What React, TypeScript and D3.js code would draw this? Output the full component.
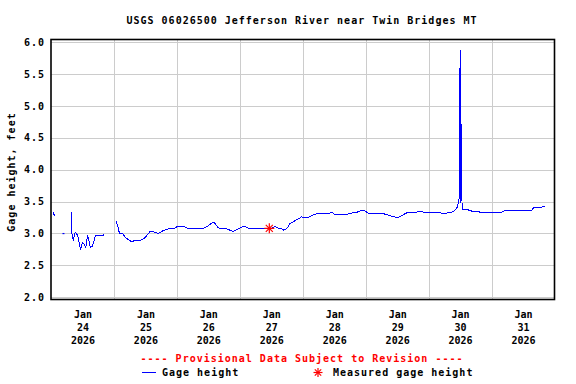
import React, { useEffect, useRef } from 'react';
import * as d3 from 'd3';

// 15-minute gage readings (null = gap in record)
const gageTimes = [
  '2026-01-24 01:00', '2026-01-24 01:15', '2026-01-24 02:30', '2026-01-24 04:45', '2026-01-24 06:00',
  '2026-01-24 07:45', '2026-01-24 08:00', '2026-01-24 08:30', '2026-01-24 09:15', '2026-01-24 09:45',
  '2026-01-24 10:15', '2026-01-24 10:45', '2026-01-24 11:15', '2026-01-24 12:00', '2026-01-24 12:30',
  '2026-01-24 13:15', '2026-01-24 13:45', '2026-01-24 14:00', '2026-01-24 14:30', '2026-01-24 15:00',
  '2026-01-24 15:45', '2026-01-24 16:30', '2026-01-24 17:00', '2026-01-24 20:00', '2026-01-24 20:15',
  '2026-01-24 22:00',
  '2026-01-25 00:45', '2026-01-25 01:30', '2026-01-25 02:00', '2026-01-25 02:15', '2026-01-25 03:30',
  '2026-01-25 04:30', '2026-01-25 06:00', '2026-01-25 06:45', '2026-01-25 08:00', '2026-01-25 10:00',
  '2026-01-25 11:30', '2026-01-25 12:45', '2026-01-25 13:45', '2026-01-25 15:45', '2026-01-25 16:45',
  '2026-01-25 17:45', '2026-01-25 19:00', '2026-01-25 20:45', '2026-01-25 22:30',
  '2026-01-26 00:15', '2026-01-26 02:45', '2026-01-26 04:15', '2026-01-26 05:30', '2026-01-26 07:00',
  '2026-01-26 10:00', '2026-01-26 12:00', '2026-01-26 13:45', '2026-01-26 14:30', '2026-01-26 15:45',
  '2026-01-26 17:00', '2026-01-26 19:00', '2026-01-26 21:00', '2026-01-26 21:30', '2026-01-26 22:45',
  '2026-01-27 00:45', '2026-01-27 02:00', '2026-01-27 03:15', '2026-01-27 05:15', '2026-01-27 09:00',
  '2026-01-27 10:15', '2026-01-27 12:15', '2026-01-27 13:30', '2026-01-27 14:45', '2026-01-27 16:00',
  '2026-01-27 16:30', '2026-01-27 18:00', '2026-01-27 19:00', '2026-01-27 21:00', '2026-01-27 22:45',
  '2026-01-27 23:30',
  '2026-01-28 00:15', '2026-01-28 02:00', '2026-01-28 04:00', '2026-01-28 05:15', '2026-01-28 09:45',
  '2026-01-28 11:15', '2026-01-28 12:15', '2026-01-28 14:15', '2026-01-28 16:45', '2026-01-28 18:45',
  '2026-01-28 20:30', '2026-01-28 22:30', '2026-01-28 23:45',
  '2026-01-29 01:00', '2026-01-29 03:00', '2026-01-29 06:45', '2026-01-29 08:30', '2026-01-29 10:30',
  '2026-01-29 12:30', '2026-01-29 13:45', '2026-01-29 15:30', '2026-01-29 16:15', '2026-01-29 19:30',
  '2026-01-29 20:00', '2026-01-29 21:45', '2026-01-29 22:00',
  '2026-01-30 04:15', '2026-01-30 04:45', '2026-01-30 07:00', '2026-01-30 07:30', '2026-01-30 09:30',
  '2026-01-30 10:30', '2026-01-30 11:00', '2026-01-30 11:30', '2026-01-30 11:45', '2026-01-30 12:00',
  '2026-01-30 12:15', '2026-01-30 12:30', '2026-01-30 12:45', '2026-01-30 13:15', '2026-01-30 15:00',
  '2026-01-30 16:30', '2026-01-30 19:15', '2026-01-30 19:30',
  '2026-01-31 01:15', '2026-01-31 01:45', '2026-01-31 03:45', '2026-01-31 05:00', '2026-01-31 15:15',
  '2026-01-31 16:00', '2026-01-31 17:15', '2026-01-31 19:00', '2026-01-31 19:45', '2026-01-31 20:15',
];

const gageHeights = [
  3.335, 3.27, null, 3.0, null,
  3.34, 3.0, 2.89, 3.02, 3.0,
  2.95, 2.86, 2.75, 2.86, 2.84,
  2.78, 2.92, 2.97, 2.88, 2.78,
  2.8, 2.9, 2.97, 2.97, 3.0,
  null,
  3.2, 3.11, 3.02, 3.0, 2.99,
  2.93, 2.89, 2.87, 2.89, 2.89,
  2.92, 2.98, 3.03, 3.02, 3.0,
  3.02, 3.05, 3.07, 3.07,
  3.11, 3.11, 3.08, 3.07, 3.08,
  3.08, 3.12, 3.18, 3.16, 3.09,
  3.07, 3.07, 3.04, 3.03, 3.06,
  3.1, 3.11, 3.08, 3.07, 3.07,
  3.07, 3.08, 3.11, 3.08, 3.07,
  3.05, 3.08, 3.15, 3.2, 3.24,
  3.26,
  3.25, 3.25, 3.29, 3.31, 3.31,
  3.33, 3.29, 3.3, 3.3, 3.32,
  3.33, 3.365, 3.35,
  3.32, 3.31, 3.31, 3.29, 3.26,
  3.255, 3.28, 3.32, 3.33, 3.33,
  3.35, 3.35, 3.33,
  3.33, 3.32, 3.32, 3.33, 3.34,
  3.385, 3.42, 3.53, 3.55, 5.875,
  3.48, 4.71, 3.385, 3.37, 3.37,
  3.35, 3.35, 3.33,
  3.33, 3.32, 3.33, 3.36, 3.36,
  3.4, 3.41, 3.41, 3.43, 3.42,
];

const measuredTimes = ['2026-01-27 11:15'];
const measuredHeights = [3.08];

const yTicks = [2.0, 2.5, 3.0, 3.5, 4.0, 4.5, 5.0, 5.5, 6.0];
const gridDays = ['2026-01-25', '2026-01-26', '2026-01-27', '2026-01-28', '2026-01-29', '2026-01-30', '2026-01-31'];
const labelDays = ['2026-01-24', '2026-01-25', '2026-01-26', '2026-01-27', '2026-01-28', '2026-01-29', '2026-01-30', '2026-01-31'];

const FONT = '"DejaVu Sans Mono", "Liberation Mono", monospace';

const App = () => {
  const svgRef = useRef<SVGSVGElement>(null);

  useEffect(() => {
    const svg = d3.select(svgRef.current);
    svg.selectAll('*').remove();

    const left = 51, right = 554.5, top = 39.5, bottom = 299.5;
    const parse = d3.utcParse('%Y-%m-%d %H:%M');
    const parseDay = d3.utcParse('%Y-%m-%d');

    const x = d3.scaleUtc()
      .domain([parse('2026-01-24 00:00'), parse('2026-02-01 00:00')])
      .range([left, right]);
    const y = d3.scaleLinear()
      .domain([1.965, 6.04])
      .range([bottom, top]);

    svg.append('rect').attr('width', 576).attr('height', 384).attr('fill', '#fff');

    // Grid
    const hGrid = svg.append('g')
      .attr('transform', `translate(${left},0)`)
      .call(d3.axisLeft(y).tickValues(yTicks).tickSize(-(right - left)).tickFormat(() => ''));
    hGrid.select('.domain').remove();
    hGrid.selectAll('line').attr('stroke', '#cccccc').attr('shape-rendering', 'crispEdges');

    const vGrid = svg.append('g')
      .attr('transform', `translate(0,${bottom})`)
      .call(d3.axisBottom(x).tickValues(gridDays.map(d => parseDay(d))).tickSize(-(bottom - top)).tickFormat(() => ''));
    vGrid.select('.domain').remove();
    vGrid.selectAll('line').attr('stroke', '#cccccc').attr('shape-rendering', 'crispEdges');

    // Gage height line
    const pts = gageTimes.map((t, i) => ({ t: parse(t), v: gageHeights[i] }));
    const line = d3.line<{ t: Date; v: number | null }>()
      .defined(d => d.v != null)
      .x(d => x(d.t))
      .y(d => y(d.v as number));

    svg.append('path')
      .datum(pts)
      .attr('d', line)
      .attr('fill', 'none')
      .attr('stroke', '#0000ff')
      .attr('stroke-width', 1)
      .attr('shape-rendering', 'crispEdges');

    // single readings with gaps on both sides
    const lonely = pts.filter((d, i) =>
      d.v != null && (i === 0 || pts[i - 1].v == null) && (i === pts.length - 1 || pts[i + 1].v == null));
    svg.selectAll('.lonely')
      .data(lonely)
      .join('rect')
      .attr('class', 'lonely')
      .attr('x', d => x(d.t) - 1)
      .attr('y', d => y(d.v as number) - 0.5)
      .attr('width', 2)
      .attr('height', 1.2)
      .attr('fill', '#0000ff');

    // Measured gage height asterisks
    const star = (g: d3.Selection<SVGGElement, unknown, null, undefined>, r: number) => {
      [0, 45, 90, 135].forEach(a => {
        const rad = (a * Math.PI) / 180;
        g.append('line')
          .attr('x1', -r * Math.cos(rad)).attr('y1', -r * Math.sin(rad))
          .attr('x2', r * Math.cos(rad)).attr('y2', r * Math.sin(rad))
          .attr('stroke', '#ff0000').attr('stroke-width', 1.2);
      });
    };
    measuredTimes.forEach((t, i) => {
      const g = svg.append('g')
        .attr('transform', `translate(${x(parse(t))},${y(measuredHeights[i])})`);
      star(g as any, 5);
    });

    // Frame
    svg.append('rect')
      .attr('x', left).attr('y', top)
      .attr('width', right - left).attr('height', bottom - top)
      .attr('fill', 'none').attr('stroke', '#000').attr('stroke-width', 1.6);

    // Y axis labels
    const yAxis = svg.append('g')
      .attr('transform', `translate(${left},0)`)
      .call(d3.axisLeft(y).tickValues(yTicks).tickSize(0).tickPadding(6).tickFormat(d3.format('.1f')));
    yAxis.select('.domain').remove();
    yAxis.selectAll('text')
      .attr('font-family', FONT).attr('font-weight', 'bold').attr('font-size', 10)
      .attr('letter-spacing', 1).attr('fill', '#000');

    // X axis labels (Mon / day / year at noon)
    const xAxis = svg.append('g')
      .attr('transform', `translate(0,${bottom})`)
      .call(d3.axisBottom(x)
        .tickValues(labelDays.map(d => d3.utcHour.offset(parseDay(d) as Date, 12)))
        .tickSize(0)
        .tickFormat(() => ''));
    xAxis.select('.domain').remove();
    const fmts = [d3.utcFormat('%b'), d3.utcFormat('%d'), d3.utcFormat('%Y')];
    xAxis.selectAll<SVGTextElement, Date>('text')
      .attr('y', null).attr('dy', null)
      .attr('font-family', FONT).attr('font-weight', 'bold').attr('font-size', 10).attr('fill', '#000')
      .each(function (d) {
        const txt = d3.select(this);
        fmts.forEach((f, k) => {
          txt.append('tspan').attr('x', 0).attr('y', 18.5 + k * 13).text(f(d));
        });
      });

    const label = (sel: any) => sel
      .attr('font-family', FONT).attr('font-weight', 'bold').attr('font-size', 10).attr('letter-spacing', 1);

    svg.append('text')
      .attr('x', 302).attr('y', 24).attr('text-anchor', 'middle')
      .call(label)
      .text('USGS 06026500 Jefferson River near Twin Bridges MT');

    svg.append('text')
      .attr('transform', 'translate(15,172) rotate(-90)')
      .attr('text-anchor', 'middle')
      .call(label)
      .text('Gage height, feet');

    svg.append('text')
      .attr('x', 302).attr('y', 362).attr('text-anchor', 'middle').attr('fill', '#ff0000')
      .call(label)
      .text('---- Provisional Data Subject to Revision ----');

    // Legend
    svg.append('line')
      .attr('x1', 142).attr('x2', 156).attr('y1', 372.5).attr('y2', 372.5)
      .attr('stroke', '#0000ff').attr('stroke-width', 1);
    svg.append('text').attr('x', 162).attr('y', 376).call(label).text('Gage height');
    const lg = svg.append('g').attr('transform', 'translate(318,372.5)');
    star(lg as any, 4.5);
    svg.append('text').attr('x', 333).attr('y', 376).call(label).text('Measured gage height');
  }, []);

  return (
    <svg
      ref={svgRef}
      width={576}
      height={384}
      style={{ position: 'absolute', left: 0, top: 0, display: 'block' }}
    />
  );
};

export default App;
